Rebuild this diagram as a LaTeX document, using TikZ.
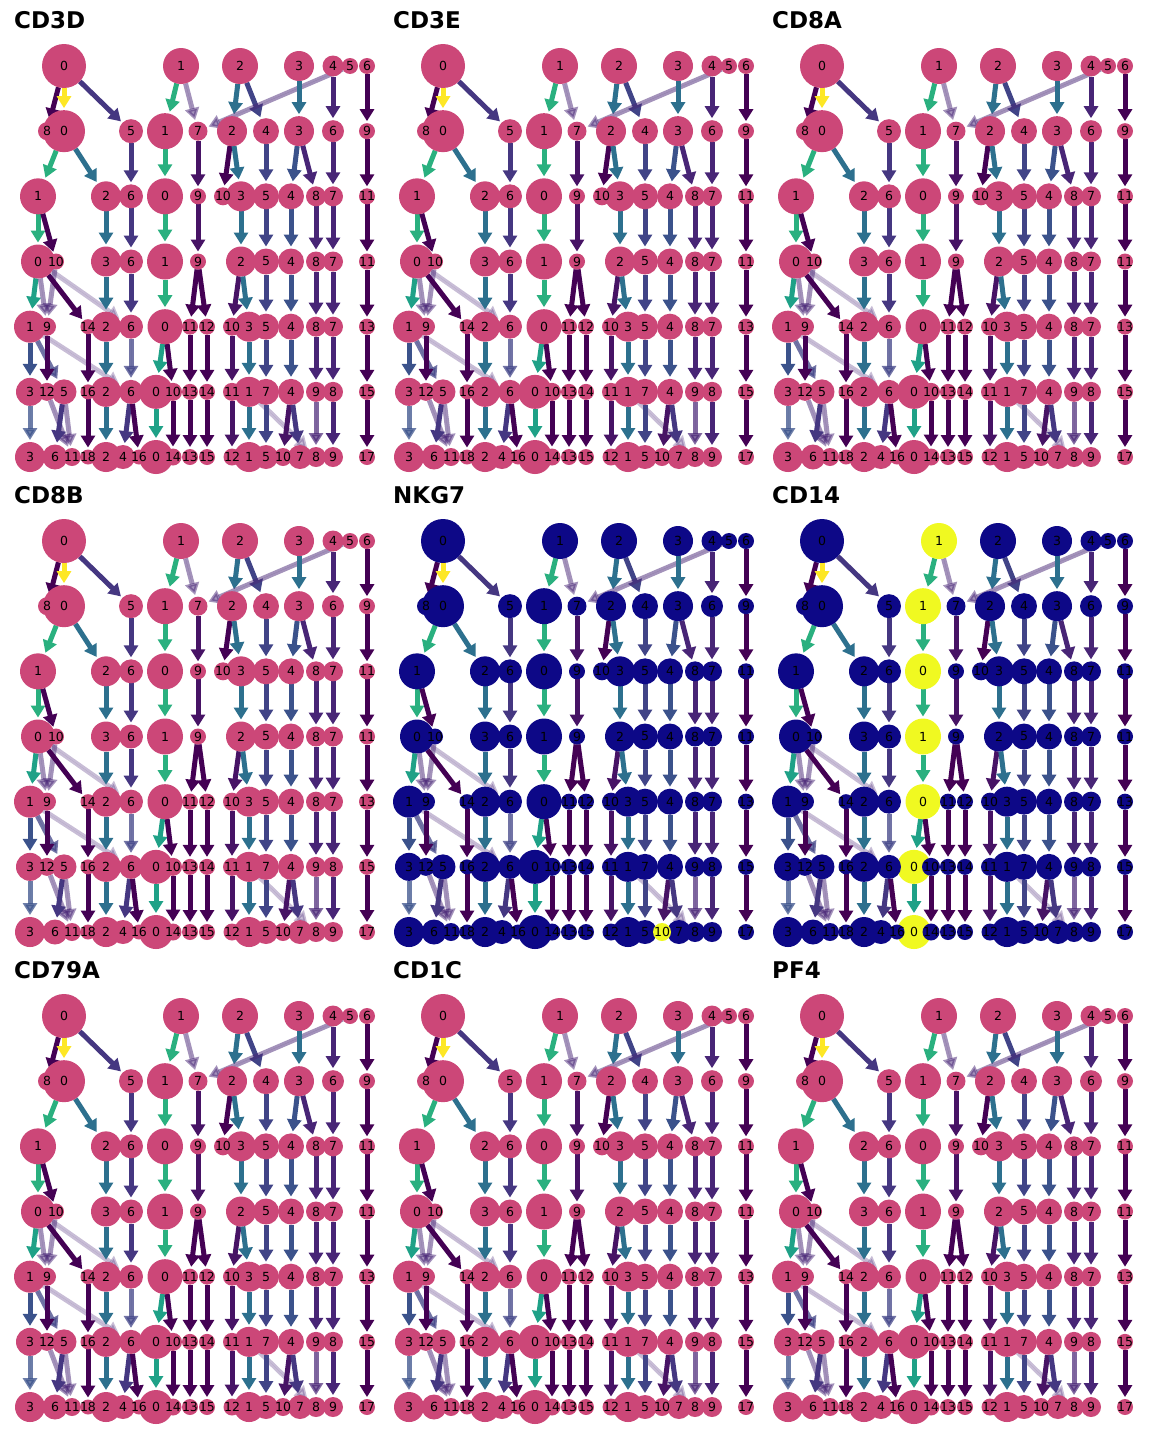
\documentclass[tikz,border=0pt]{standalone}
\usepackage{fontspec}
\setmainfont{DejaVu Sans}
\usetikzlibrary{arrows.meta,backgrounds}

\definecolor{pMid}{HTML}{CC4778}
\definecolor{pLo}{HTML}{0D0887}
\definecolor{pHi}{HTML}{F0F921}
\definecolor{vD}{HTML}{440154}
\definecolor{vDP}{HTML}{471365}
\definecolor{vP}{HTML}{482576}
\definecolor{vI}{HTML}{453781}
\definecolor{vIb}{HTML}{414487}
\definecolor{vB}{HTML}{3B528B}
\definecolor{vT}{HTML}{2D708E}
\definecolor{vGT}{HTML}{1FA187}
\definecolor{vG}{HTML}{2AB07F}
\definecolor{vY}{HTML}{FDE725}

% row/cluster/x/radius
\newcommand\clnodes{%
  1/0/64/22, 1/1/181/18, 1/2/240/18, 1/3/299/15, 1/4/333/10.5, 1/5/350/8, 1/6/367/8,
  2/0/64/21, 2/1/165/18, 2/2/232/15, 2/3/299/15, 2/4/266/13, 2/5/131/12, 2/6/333/11, 2/7/198/9.5, 2/8/47/9, 2/9/367/8,
  3/0/165/18, 3/1/38/18, 3/2/106/15, 3/3/241/15, 3/4/291/13, 3/5/266/13, 3/6/131/12, 3/7/333/10, 3/8/316/10, 3/9/198/8, 3/10/223/9, 3/11/367/8,
  4/0/38/17, 4/1/165/18, 4/2/241/15, 4/3/106/15, 4/4/291/13, 4/5/266/13, 4/6/131/12, 4/7/333/10, 4/8/316/10, 4/9/198/8, 4/10/56/8, 4/11/367/8,
  5/0/165/17.5, 5/1/30/16, 5/2/106/15, 5/3/249/15, 5/4/291/13, 5/5/266/13, 5/6/131/12, 5/7/333/10, 5/8/316/10, 5/9/47/9, 5/10/232/9, 5/11/190/8, 5/12/207/8, 5/13/367/8, 5/14/88/7.5,
  6/0/156/17, 6/1/249/15, 6/2/106/15, 6/3/30/14, 6/4/291/13, 6/5/64/12.5, 6/6/131/12, 6/7/266/13, 6/8/333/10, 6/9/316/10, 6/10/173/9, 6/11/232/9, 6/12/47/9, 6/13/190/8, 6/14/207/8, 6/15/367/8, 6/16/88/7.5,
  7/0/156/17, 7/1/249/15, 7/2/106/15, 7/3/30/15, 7/4/123/12, 7/5/266/12, 7/6/55/12.5, 7/7/300/12, 7/8/316/10, 7/9/333/10, 7/10/283/9, 7/11/72/9, 7/12/232/8.5, 7/13/190/8, 7/14/173/8.5, 7/15/207/8, 7/16/139/7.5, 7/17/367/8, 7/18/88/7.5}

% from/to/style
\newcommand\cledges{%
  1c0/2c8/eD, 1c0/2c0/eY, 1c0/2c5/eI, 1c1/2c1/eG, 1c1/2c7/eL, 1c2/2c2/eT, 1c2/2c4/eIb, 1c5/2c7/eL, 1c3/2c3/eT, 1c4/2c6/eP, 1c6/2c9/eD,
  2c0/3c1/eG, 2c0/3c2/eT, 2c5/3c6/eI, 2c1/3c0/eG, 2c7/3c9/eDP, 2c2/3c10/eD, 2c2/3c3/eT, 2c4/3c5/eIb, 2c3/3c4/eB, 2c3/3c8/eP, 2c6/3c7/eP, 2c9/3c11/eD,
  3c1/4c0/eG, 3c1/4c10/eD, 3c2/4c3/eT, 3c6/4c6/eI, 3c0/4c1/eG, 3c9/4c9/eDP, 3c3/4c2/eT, 3c5/4c5/eIb, 3c4/4c4/eB, 3c8/4c8/eP, 3c7/4c7/eP, 3c11/4c11/eD,
  4c0/5c1/eGT, 4c0/5c9/eL, 4c10/5c9/eL, 4c0/5c14/eD, 4c0/5c6/eLL, 4c3/5c2/eT, 4c6/5c6/eI, 4c1/5c0/eG, 4c9/5c11/eD, 4c9/5c12/eD, 4c2/5c10/eDP, 4c2/5c3/eT, 4c5/5c5/eIb, 4c4/5c4/eB, 4c8/5c8/eP, 4c7/5c7/eP, 4c11/5c13/eD,
  5c1/6c3/eB, 5c1/6c5/eIL, 5c1/6c6/eLL, 5c9/6c12/eD, 5c14/6c16/eD, 5c2/6c2/eT, 5c6/6c6/eIL, 5c0/6c0/eGT, 5c0/6c10/eD, 5c11/6c13/eD, 5c12/6c14/eD, 5c10/6c11/eDP, 5c3/6c1/eT, 5c5/6c7/eIb, 5c4/6c4/eB, 5c8/6c9/eP, 5c7/6c8/eP, 5c13/6c15/eD,
  6c3/7c3/eBL, 6c12/7c11/eL, 6c5/7c6/eI, 6c5/7c11/eL, 6c16/7c18/eD, 6c2/7c2/eT, 6c6/7c4/eI, 6c6/7c16/eD, 6c0/7c0/eGT, 6c10/7c14/eD, 6c13/7c13/eD, 6c14/7c15/eD, 6c11/7c12/eDP, 6c1/7c1/eT, 6c1/7c8/eLL, 6c7/7c5/eIb, 6c4/7c10/eDP, 6c4/7c7/eI, 6c9/7c8/ePL, 6c8/7c9/eP, 6c15/7c17/eD}

% column/row/title/fill/highlights
\newcommand\clpanel[5]{%
  \begin{scope}[shift={(379*#1,475*#2)}, #5]
    \node[ttl] (ttl) at (14,20) {#3};
    \foreach \row/\cl/\xp/\rad in \clnodes
      \node[clnode, fill=#4, minimum size=2*\rad pt, hl/r\row c\cl/.try]
        (r\row c\cl) at (\xp,{66+65.17*(\row-1)}) {};
    \begin{scope}[on background layer]
      \foreach \src/\dst/\st in \cledges
        \draw[edge, \st] (r\src) -- (r\dst);
    \end{scope}
    \foreach \row/\cl/\xp/\rad in \clnodes
      \node[lbl] (t\row c\cl) at (r\row c\cl) {\cl};
  \end{scope}}

\begin{document}
\begin{tikzpicture}[
  x = 1pt, y = -1pt,
  clnode/.style = {circle, inner sep=0pt, outer sep=0pt},
  lbl/.style = {font=\fontsize{12.5}{12.5}\selectfont, inner sep=0pt},
  ttl/.style = {font=\fontsize{23}{23}\selectfont\bfseries, anchor=west, inner sep=0pt},
  edge/.style = {line width=5pt, -{Triangle[width=14pt,length=12pt]}, shorten >=2pt},
  eD/.style = {draw=vD, fill=vD},
  eDP/.style = {draw=vDP, fill=vDP},
  eP/.style = {draw=vP, fill=vP},
  ePL/.style = {draw=vP, fill=vP, opacity=.7},
  eL/.style = {draw=vP, fill=vP, opacity=.5},
  eLL/.style = {draw=vP, fill=vP, opacity=.3},
  eI/.style = {draw=vI, fill=vI},
  eIL/.style = {draw=vIb, fill=vIb, opacity=.75},
  eIb/.style = {draw=vIb, fill=vIb},
  eB/.style = {draw=vB, fill=vB},
  eBL/.style = {draw=vB, fill=vB, opacity=.75},
  eT/.style = {draw=vT, fill=vT},
  eGT/.style = {draw=vGT, fill=vGT},
  eG/.style = {draw=vG, fill=vG},
  eY/.style = {draw=vY, fill=vY},
]
\useasboundingbox (0,0) rectangle (1152,1440);

\clpanel{0}{0}{CD3D}{pMid}{}
\clpanel{1}{0}{CD3E}{pMid}{}
\clpanel{2}{0}{CD8A}{pMid}{}
\clpanel{0}{1}{CD8B}{pMid}{}
\clpanel{1}{1}{NKG7}{pLo}{hl/r7c10/.style={fill=pHi}}
\clpanel{2}{1}{CD14}{pLo}{hl/r1c1/.style={fill=pHi}, hl/r2c1/.style={fill=pHi},
  hl/r3c0/.style={fill=pHi}, hl/r4c1/.style={fill=pHi}, hl/r5c0/.style={fill=pHi},
  hl/r6c0/.style={fill=pHi}, hl/r7c0/.style={fill=pHi}}
\clpanel{0}{2}{CD79A}{pMid}{}
\clpanel{1}{2}{CD1C}{pMid}{}
\clpanel{2}{2}{PF4}{pMid}{}

\end{tikzpicture}
\end{document}
